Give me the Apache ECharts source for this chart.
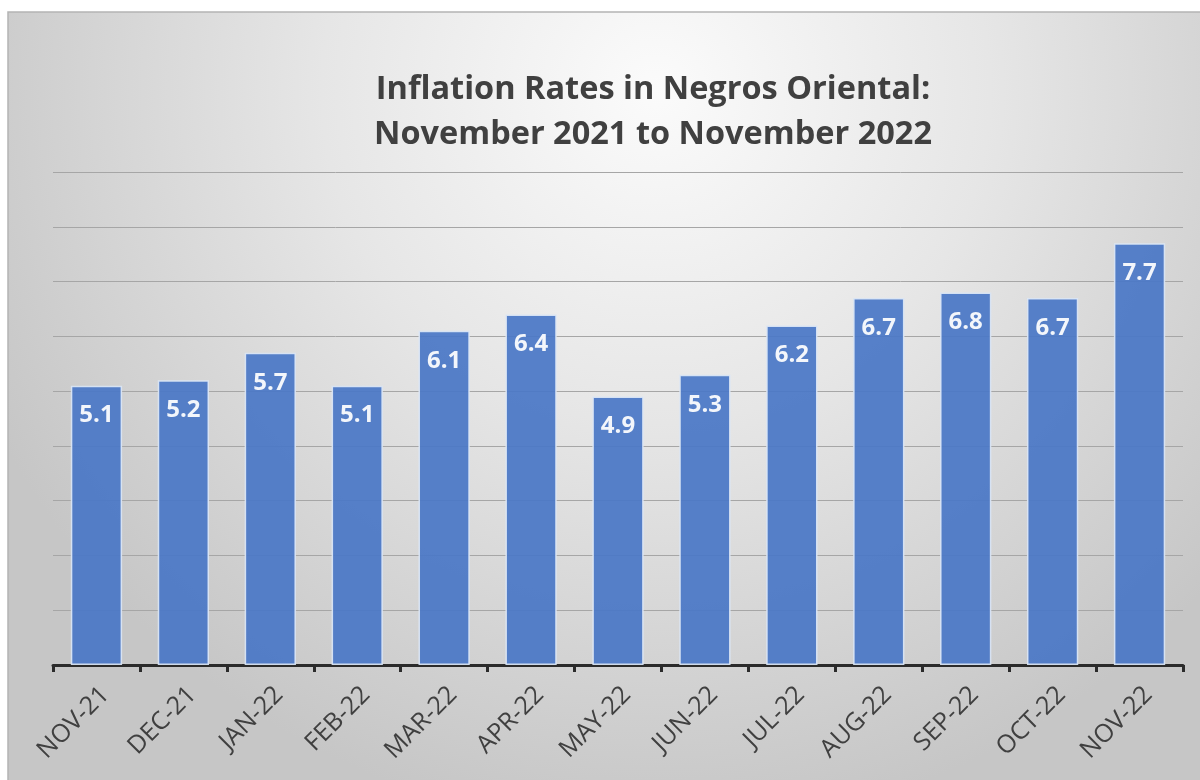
<!DOCTYPE html>
<html>
<head>
<meta charset="utf-8">
<script src="https://cdn.jsdelivr.net/npm/echarts@6/dist/echarts.min.js"></script>
<style>
html,body{margin:0;padding:0;background:#fff;}
#c{width:1200px;height:780px;}
</style>
</head>
<body>
<div id="c"></div>
<script>
const categories = ['NOV-21','DEC-21','JAN-22','FEB-22','MAR-22','APR-22','MAY-22','JUN-22','JUL-22','AUG-22','SEP-22','OCT-22','NOV-22'];
const inflation = [5.1, 5.2, 5.7, 5.1, 6.1, 6.4, 4.9, 5.3, 6.2, 6.7, 6.8, 6.7, 7.7];
const yMin = 0, yMax = 9, yStep = 1;

const chart = echarts.init(document.getElementById('c'), null, {renderer:'canvas'});
chart.setOption({
  animation: false,
  backgroundColor: '#ffffff',
  graphic: [{
    type: 'rect', z: -10, silent: true,
    shape: {x: 8, y: 12, width: 1200, height: 780},
    style: {
      fill: new echarts.graphic.RadialGradient(0.54, 0.1, 0.95, [
        {offset: 0, color: '#fbfbfb'},
        {offset: 0.45, color: '#e6e6e6'},
        {offset: 1, color: '#c6c6c6'}
      ]),
      stroke: '#b4b4b4', lineWidth: 1.5
    }
  }],
  title: {
    text: 'Inflation Rates in Negros Oriental:\nNovember 2021 to November 2022',
    left: 648, top: 62, textAlign: 'center',
    textStyle: {fontFamily: 'Open Sans', fontWeight: 'bold', fontSize: 32.5, lineHeight: 45, color: '#404040'}
  },
  grid: {left: 53, right: 17, top: 172, bottom: 115, containLabel: false},
  xAxis: {
    type: 'category', data: categories,
    axisLine: {lineStyle: {color: '#2b2b2b', width: 3}},
    axisTick: {show: true, length: 7, lineStyle: {color: '#2b2b2b', width: 3}},
    axisLabel: {rotate: 45, margin: 17, verticalAlign: 'top', fontFamily: 'Open Sans', fontSize: 25, color: '#404040', interval: 0}
  },
  yAxis: {
    type: 'value', min: yMin, max: yMax, interval: yStep,
    axisLabel: {show: false}, axisLine: {show: false}, axisTick: {show: false},
    splitLine: {lineStyle: {color: '#a6a6a6', width: 1}}
  },
  series: [{
    type: 'bar', data: inflation, barCategoryGap: '41%',
    itemStyle: {color: '#4a77c6', opacity: 0.93, borderColor: '#dce6f5', borderWidth: 1.5},
    label: {show: true, position: 'insideTop', distance: 18, color: '#ffffff',
      fontFamily: 'Open Sans', fontWeight: 'bold', fontSize: 24}
  }]
});
</script>
</body>
</html>
